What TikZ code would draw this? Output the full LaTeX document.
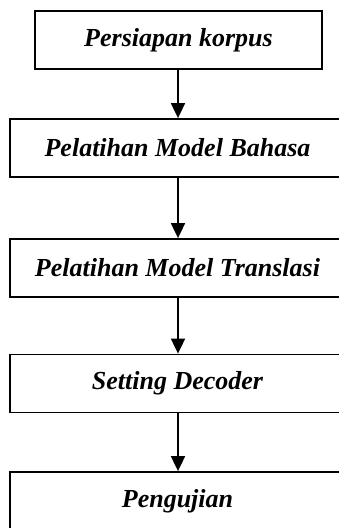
\documentclass[tikz,border=0pt]{standalone}
\usepackage{fontspec}
\setmainfont{Liberation Serif}
\usetikzlibrary{positioning, arrows.meta}
\tikzset{
step box/.style={
  rectangle,
  draw,
  line width=1.8pt,
  text centered,
  minimum height=58pt,
  minimum width=335pt,
  inner sep=0pt,
  font=\fontsize{26}{30}\selectfont\bfseries\itshape
 },
flow/.style={draw, line width=1.8pt, -{Triangle[length=15pt,width=14pt]}}
}
\begin{document}
\begin{tikzpicture}[x=1pt,y=-1pt]
 \useasboundingbox (0,0) rectangle (339,528);
 \node[step box, line width=1.2pt, minimum width=287pt] (korpus) at (178.5,40) {Persiapan korpus};
 \node[step box] (bahasa) at (177.5,148) {Pelatihan Model Bahasa};
 \node[step box] (translasi) at (177.5,268) {Pelatihan Model Translasi};
 \node[step box] (decoder) at (177.5,383.5) {Setting Decoder};
 \node[step box] (uji) at (177.5,501) {Pengujian};
 % arrows between the steps
 \foreach \A/\B in {korpus/bahasa, bahasa/translasi, translasi/decoder, decoder/uji}
 {\draw[flow] (\A.south -| 178,0) -- (\B.north -| 178,0);}
\end{tikzpicture}
\end{document}
